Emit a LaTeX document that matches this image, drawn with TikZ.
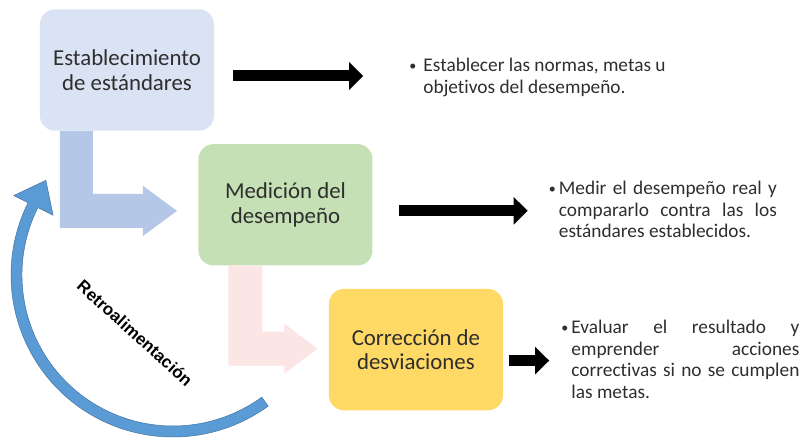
\documentclass[tikz,border=0pt]{standalone}
\usepackage{fontspec}
\setmainfont{Carlito}[RawFeature={-liga;-clig;-calt;-dlig}]
\newfontfamily\retrofont{Liberation Sans}
\usetikzlibrary{arrows.meta,positioning,calc}

\definecolor{stdblue}{HTML}{DAE3F3}
\definecolor{medgreen}{HTML}{C5E0B4}
\definecolor{coryellow}{HTML}{FFD966}
\definecolor{lblue}{HTML}{B4C7E7}
\definecolor{lpink}{HTML}{FBE5E5}
\definecolor{fbblue}{HTML}{5B9BD5}
\definecolor{fbedge}{HTML}{41719C}
\definecolor{txtgray}{HTML}{2E2E2E}

% bullet followed by a block of lines
\newcommand{\bul}[2][0.3cm]{\makebox[#1][l]{\raisebox{0.04em}{\fontsize{12}{12}\selectfont\textbullet}}\begin{tabular}[t]{@{}l@{}}#2\end{tabular}}

\begin{document}
\begin{tikzpicture}[
  x=0.03cm, y=0.03cm,
  every node/.style={align=center, text=txtgray},
  box/.style={rounded corners=0.45cm, minimum width=5.22cm, minimum height=3.64cm, font=\fontsize{19.5}{21}\selectfont},
  bullets/.style={inner sep=0pt, align=left, font=\fontsize{16.5}{18.5}\selectfont},
  blk/.style={line width=0.33cm, -{Triangle[length=0.42cm,width=0.8cm]}}
]
\useasboundingbox (0,0) rectangle (802,439);

\node[box, fill=stdblue] (b1) at (127,369) {Establecimiento\\de estándares};
\node[box, fill=medgreen, below right=0.39cm and -0.48cm of b1] (b2) {Medición del\\desempeño};
\node[box, fill=coryellow, below right=0.69cm and -1.32cm of b2] (b3) {Corrección de\\desviaciones};

\node[bullets, right=5.85cm of b1, yshift=-0.24cm] (t1) {\bul[0.42cm]{Establecer las normas, metas u\\objetivos del desempeño.}};
\node[bullets, right=5.28cm of b2, yshift=-0.21cm] (t2) {\bul[0.3cm]{\makebox[6.54cm][s]{Medir el desempeño real y}\\\makebox[6.54cm][s]{compararlo contra las los}\\estándares establecidos.}};
\node[bullets, right=1.74cm of b3, yshift=-0.36cm] (t3) {\bul[0.3cm]{\makebox[6.84cm][s]{Evaluar el resultado y}\\\makebox[6.84cm][s]{emprender acciones}\\\makebox[6.84cm][s]{correctivas si no se cumplen}\\las metas.}};

% bent block arrows between the steps
\fill[lblue] ([xshift=-2.01cm]b1.south) -- ++(33,0) -- ++(0,-63) -- ++(50,0) -- ++(0,8) -- ++(34,-25) -- ++(-34,-25) -- ++(0,8) -- ++(-83,0) -- cycle;
\fill[lpink] ([xshift=-1.71cm]b2.south) -- ++(34,0) -- ++(0,-66) -- ++(22,0) -- ++(0,8) -- ++(33,-25) -- ++(-33,-25) -- ++(0,8) -- ++(-56,0) -- cycle;

\draw[blk, shorten <=0.57cm, shorten >=1.38cm] ([yshift=-0.18cm]b1.east) -- ([yshift=-0.18cm]b1.east -| t1.west);
\draw[blk, shorten <=0.78cm, shorten >=0.63cm] ([yshift=-0.18cm]b2.east) -- ([yshift=-0.18cm]b2.east -| t2.west);
\draw[blk, shorten <=0.18cm, shorten >=0.36cm] ([yshift=-0.33cm]b3.east) -- ([yshift=-0.33cm]b3.east -| t3.west);

% feedback arc
\coordinate (fc) at (173,164);
\filldraw[fill=fbblue, draw=fbedge, line width=0.4pt] ($(fc)+(-54:162)$) arc[start angle=-54, end angle=-206.5, radius=162]
  -- ($(fc)+(153.5:178)$) -- ($(fc)+(153.5:156)+(63.5:28)$) -- ($(fc)+(153.5:134)$)
  -- ($(fc)+(153.5:151)$) arc[start angle=153.5, end angle=306, radius=151] -- cycle;
\node[rotate=-42, text=black, font=\retrofont\bfseries\fontsize{14.5}{16}\selectfont] (fb) at (135,106) {Retroalimentación};

\end{tikzpicture}
\end{document}
